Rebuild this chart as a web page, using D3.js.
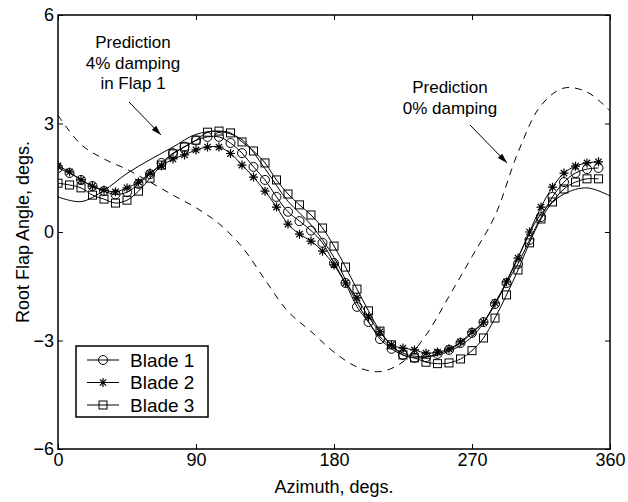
<!DOCTYPE html>
<html>
<head>
<meta charset="utf-8">
<script src="https://cdn.jsdelivr.net/npm/d3@7"></script>
<style>
  body { margin: 0; background: #fff; }
  text { font-family: "Liberation Sans", Arial, sans-serif; fill: #000; }
</style>
</head>
<body>
<div id="vis"></div>
<script>
// measured blade data, one sample every 7.5 deg
var azimuth = [0, 7.5, 15, 22.5, 30, 37.5, 45, 52.5, 60, 67.5, 75, 82.5,
    90, 97.5, 105, 112.5, 120, 127.5, 135, 142.5, 150, 157.5, 165, 172.5,
    180, 187.5, 195, 202.5, 210, 217.5, 225, 232.5, 240, 247.5, 255, 262.5,
    270, 277.5, 285, 292.5, 300, 307.5, 315, 322.5, 330, 337.5, 345, 352.5];

var blade1 = [1.77, 1.63, 1.44, 1.27, 1.13, 1.04, 1.10, 1.33, 1.60, 1.91, 2.18, 2.36,
    2.53, 2.63, 2.63, 2.46, 2.18, 1.80, 1.44, 0.97, 0.56, 0.30, 0.04, -0.30,
    -0.86, -1.41, -2.07, -2.49, -2.96, -3.23, -3.40, -3.48, -3.46, -3.37, -3.26, -3.07,
    -2.79, -2.49, -1.99, -1.41, -0.88, -0.22, 0.41, 0.97, 1.38, 1.63, 1.74, 1.77];

var blade2 = [1.83, 1.66, 1.44, 1.27, 1.16, 1.11, 1.22, 1.38, 1.63, 1.83, 2.02, 2.13,
    2.27, 2.35, 2.35, 2.17, 1.85, 1.52, 1.13, 0.69, 0.22, -0.06, -0.25, -0.53,
    -0.91, -1.41, -1.82, -2.35, -2.76, -3.12, -3.21, -3.26, -3.35, -3.32, -3.23, -3.04,
    -2.76, -2.49, -1.96, -1.38, -0.72, 0.00, 0.69, 1.24, 1.63, 1.82, 1.91, 1.94];

var blade3 = [1.35, 1.30, 1.22, 1.02, 0.91, 0.80, 0.88, 1.13, 1.49, 1.85, 2.16, 2.35,
    2.54, 2.76, 2.79, 2.74, 2.49, 2.24, 1.91, 1.44, 1.05, 0.75, 0.47, 0.11,
    -0.39, -0.97, -1.58, -2.18, -2.74, -3.12, -3.40, -3.48, -3.60, -3.64, -3.62, -3.51,
    -3.28, -2.93, -2.38, -1.74, -1.05, -0.30, 0.36, 0.83, 1.19, 1.38, 1.47, 1.47];

// predictions, one sample every 15 deg
var predAzimuth = [0, 15, 30, 45, 60, 75, 90, 105, 120, 135, 150, 165,
    180, 195, 210, 225, 240, 255, 270, 285, 300, 315, 330, 345, 360];

var pred4 = [0.97, 0.84, 1.15, 1.62, 2.00, 2.35, 2.70, 2.78, 2.55, 1.75, 0.85, 0.20,
    -0.70, -1.95, -2.90, -3.35, -3.45, -3.30, -2.90, -2.00, -0.70, 0.50, 1.05, 1.22, 1.00];

var pred0 = [3.23, 2.42, 2.02, 1.73, 1.38, 1.02, 0.67, 0.23, -0.41, -1.32, -2.20, -2.75,
    -3.32, -3.73, -3.86, -3.59, -2.85, -1.78, -0.68, 0.45, 2.20, 3.50, 3.98, 3.87, 3.35];

var xTicks = [0, 90, 180, 270, 360];
var yTicks = [-6, -3, 0, 3, 6];
var legendNames = ['Blade 1', 'Blade 2', 'Blade 3'];

// Set the dimensions and margins of the diagram
var margin = {top: 15, right: 18, bottom: 53, left: 58},
    width = 628 - margin.left - margin.right,
    height = 502 - margin.top - margin.bottom;

var svg = d3.select('#vis').append('svg')
    .attr('width', 628)
    .attr('height', 502)
  .append('g')
    .attr('transform', 'translate(' + margin.left + ',' + margin.top + ')');

var x = d3.scaleLinear().domain([0, 360]).range([0, width]);
var y = d3.scaleLinear().domain([-6, 6]).range([height, 0]);

// ticks point inwards on all four sides, labels only left / bottom
var tickLen = 5;
svg.append('g')
    .attr('transform', 'translate(0,' + height + ')')
    .call(d3.axisBottom(x).tickValues(xTicks).tickSize(-tickLen).tickPadding(4))
    .call(function(g) { g.select('.domain').remove(); });
svg.append('g')
    .call(d3.axisLeft(y).tickValues(yTicks).tickSize(-tickLen).tickPadding(4)
        .tickFormat(function(d) { return d < 0 ? '\u2212' + Math.abs(d) : d; }))
    .call(function(g) { g.select('.domain').remove(); });
svg.append('g')
    .call(d3.axisTop(x).tickValues(xTicks).tickSize(-tickLen).tickFormat(''))
    .call(function(g) { g.select('.domain').remove(); });
svg.append('g')
    .attr('transform', 'translate(' + width + ',0)')
    .call(d3.axisRight(y).tickValues(yTicks).tickSize(-tickLen).tickFormat(''))
    .call(function(g) { g.select('.domain').remove(); });

svg.selectAll('.tick text')
    .style('font-size', '18px')
    .style('font-family', '"Liberation Sans", Arial, sans-serif');
svg.selectAll('.tick line').attr('stroke', '#000');

svg.append('rect')
    .attr('width', width)
    .attr('height', height)
    .attr('fill', 'none')
    .attr('stroke', '#000')
    .attr('stroke-width', 1.5);

// axis titles
svg.append('text')
    .attr('x', width / 2)
    .attr('y', height + 44)
    .attr('text-anchor', 'middle')
    .style('font-size', '18px')
    .text('Azimuth, degs.');

svg.append('text')
    .attr('transform', 'translate(' + (-29) + ',' + (height / 2) + ') rotate(-90)')
    .attr('text-anchor', 'middle')
    .style('font-size', '18px')
    .text('Root Flap Angle, degs.');

var clip = svg.append('clipPath').attr('id', 'clip')
  .append('rect').attr('width', width).attr('height', height);

var plot = svg.append('g').attr('clip-path', 'url(#clip)');

var line = d3.line()
    .x(function(d) { return x(d[0]); })
    .y(function(d) { return y(d[1]); })
    .curve(d3.curveCatmullRom);

function pairs(xs, ys) {
    return xs.map(function(v, i) { return [v, ys[i]]; });
}

// prediction curves
plot.append('path')
    .datum(pairs(predAzimuth, pred0))
    .attr('d', line)
    .attr('fill', 'none')
    .attr('stroke', '#000')
    .attr('stroke-width', 1)
    .attr('stroke-dasharray', '7,6');

plot.append('path')
    .datum(pairs(predAzimuth, pred4))
    .attr('d', line)
    .attr('fill', 'none')
    .attr('stroke', '#000')
    .attr('stroke-width', 1);

// marker drawing helpers
function drawMarker(sel, type) {
    if (type === 'circle') {
        sel.append('circle').attr('r', 4.5)
            .attr('fill', 'none').attr('stroke', '#000');
    } else if (type === 'square') {
        sel.append('rect').attr('x', -4).attr('y', -4)
            .attr('width', 8).attr('height', 8)
            .attr('fill', 'none').attr('stroke', '#000');
    } else {
        sel.append('path')
            .attr('d', 'M0,-4.5V4.5M-4.5,0H4.5M-3.2,-3.2L3.2,3.2M-3.2,3.2L3.2,-3.2')
            .attr('stroke', '#000').attr('stroke-width', 1.2);
    }
}

var blades = [
    {values: blade1, marker: 'circle'},
    {values: blade2, marker: 'star'},
    {values: blade3, marker: 'square'}
];

blades.forEach(function(b) {
    var pts = pairs(azimuth, b.values);
    plot.append('path')
        .datum(pts)
        .attr('d', line)
        .attr('fill', 'none')
        .attr('stroke', '#000')
        .attr('stroke-width', 1);

    plot.selectAll(null)
        .data(pts)
        .enter().append('g')
        .attr('transform', function(d) { return 'translate(' + x(d[0]) + ',' + y(d[1]) + ')'; })
        .each(function() { drawMarker(d3.select(this), b.marker); });
});

// annotations with arrows
var defs = svg.append('defs');
defs.append('marker')
    .attr('id', 'arrow')
    .attr('viewBox', '0 0 10 6')
    .attr('refX', 10).attr('refY', 3)
    .attr('markerWidth', 10).attr('markerHeight', 6)
    .attr('markerUnits', 'userSpaceOnUse')
    .attr('orient', 'auto')
  .append('path')
    .attr('d', 'M0,0L10,3L0,6Z')
    .attr('fill', '#000');

function note(lines, cx, cy, from, to) {
    var t = svg.append('text')
        .attr('text-anchor', 'middle')
        .style('font-size', '17px');
    lines.forEach(function(s, i) {
        t.append('tspan').attr('x', cx).attr('y', cy + i * 20.5).text(s);
    });
    svg.append('line')
        .attr('x1', from[0]).attr('y1', from[1])
        .attr('x2', to[0]).attr('y2', to[1])
        .attr('stroke', '#000')
        .attr('marker-end', 'url(#arrow)');
}

note(['Prediction', '4% damping', 'in Flap 1'], 75, 33, [71, 87], [103, 120]);
note(['Prediction', '0% damping'], 392, 78, [412, 110], [449, 148]);

// legend
var lg = svg.append('g').attr('transform', 'translate(18,331)');
lg.append('rect')
    .attr('width', 132).attr('height', 71)
    .attr('fill', '#fff').attr('stroke', '#000').attr('stroke-width', 1.5);

legendNames.forEach(function(name, i) {
    var row = lg.append('g').attr('transform', 'translate(0,' + (14 + i * 22.5) + ')');
    row.append('line')
        .attr('x1', 11).attr('x2', 43)
        .attr('stroke', '#000');
    var m = row.append('g').attr('transform', 'translate(27,0)');
    drawMarker(m, blades[i].marker);
    row.append('text')
        .attr('x', 54).attr('dy', '0.36em')
        .style('font-size', '19px')
        .text(name);
});
</script>
</body>
</html>
